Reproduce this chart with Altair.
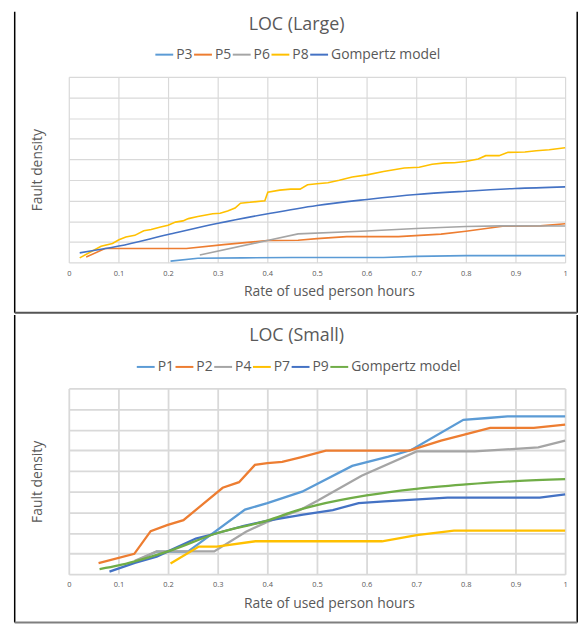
import altair as alt
import pandas as pd

# ---------------- shared ----------------
x_ticks = [0, 0.1, 0.2, 0.3, 0.4, 0.5, 0.6, 0.7, 0.8, 0.9, 1.0]
y_grid = [0, 1, 2, 3, 4, 5, 6, 7, 8, 9]
x_title = "Rate of used person hours"
y_title = "Fault density"

# ---------------- LOC (Large) ----------------
large_names = ["P3", "P5", "P6", "P8", "Gompertz model"]
large_colors = ["#5B9BD5", "#ED7D31", "#A5A5A5", "#FFC000", "#4472C4"]

p3_x = [0.205, 0.26, 0.35, 0.45, 0.55, 0.634, 0.7, 0.8, 0.9, 1.0]
p3_y = [0.07, 0.21, 0.23, 0.25, 0.25, 0.25, 0.3, 0.34, 0.34, 0.34]

p5_x = [0.035, 0.073, 0.237, 0.312, 0.4, 0.462, 0.5, 0.56, 0.664, 0.75, 0.8, 0.874, 0.95, 1.0]
p5_y = [0.27, 0.68, 0.68, 0.87, 1.07, 1.08, 1.16, 1.26, 1.26, 1.38, 1.52, 1.76, 1.78, 1.88]

p6_x = [0.264, 0.4, 0.462, 0.6, 0.7, 0.8, 0.87, 1.0]
p6_y = [0.37, 1.07, 1.39, 1.53, 1.65, 1.75, 1.78, 1.77]

p8_x = [0.022, 0.065, 0.088, 0.101, 0.115, 0.133, 0.151, 0.166, 0.185, 0.2, 0.215,
        0.23, 0.241, 0.26, 0.29, 0.305, 0.32, 0.335, 0.346, 0.365, 0.395, 0.401,
        0.425, 0.447, 0.466, 0.481, 0.5, 0.522, 0.545, 0.571, 0.601, 0.634, 0.676,
        0.706, 0.732, 0.758, 0.777, 0.799, 0.825, 0.84, 0.867, 0.885, 0.919, 0.942,
        0.968, 1.0]
p8_y = [0.23, 0.79, 0.93, 1.11, 1.24, 1.32, 1.54, 1.6, 1.72, 1.81, 1.96,
        2.02, 2.13, 2.23, 2.37, 2.39, 2.5, 2.64, 2.88, 2.92, 3.0, 3.41,
        3.51, 3.56, 3.56, 3.77, 3.82, 3.87, 3.99, 4.15, 4.25, 4.41, 4.58,
        4.62, 4.76, 4.83, 4.84, 4.9, 5.02, 5.18, 5.18, 5.34, 5.36, 5.42,
        5.47, 5.56]

gl_x = [0.022, 0.101, 0.2, 0.301, 0.401, 0.5, 0.601, 0.7, 0.8, 0.9, 1.0]
gl_y = [0.47, 0.8, 1.36, 1.91, 2.37, 2.77, 3.06, 3.3, 3.46, 3.59, 3.67]

# ---------------- LOC (Small) ----------------
small_names = ["P1", "P2", "P4", "P7", "P9", "Gompertz model"]
small_colors = ["#5B9BD5", "#ED7D31", "#A5A5A5", "#FFC000", "#4472C4", "#70AD47"]

p1_x = [0.133, 0.177, 0.24, 0.355, 0.4, 0.47, 0.571, 0.644, 0.69, 0.795, 0.844, 0.884, 1.0]
p1_y = [0.62, 1.1, 1.1, 3.13, 3.45, 4.0, 5.25, 5.7, 6.02, 7.48, 7.57, 7.65, 7.65]

p2_x = [0.06, 0.132, 0.165, 0.198, 0.231, 0.31, 0.343, 0.375, 0.4, 0.43, 0.467,
        0.518, 0.686, 0.75, 0.795, 0.849, 0.937, 1.0]
p2_y = [0.54, 0.99, 2.09, 2.38, 2.62, 4.19, 4.46, 5.3, 5.38, 5.44, 5.66,
        5.99, 5.99, 6.47, 6.75, 7.09, 7.09, 7.25]

p4_x = [0.133, 0.177, 0.293, 0.357, 0.4, 0.465, 0.5, 0.59, 0.701, 0.818, 0.946, 1.0]
p4_y = [0.65, 1.11, 1.11, 2.06, 2.54, 3.1, 3.55, 4.77, 5.95, 5.95, 6.15, 6.47]

p7_x = [0.205, 0.262, 0.298, 0.376, 0.631, 0.701, 0.776, 1.0]
p7_y = [0.52, 1.34, 1.34, 1.6, 1.6, 1.9, 2.11, 2.11]

p9_x = [0.082, 0.133, 0.177, 0.2, 0.256, 0.3, 0.353, 0.401, 0.472, 0.532, 0.584,
        0.636, 0.763, 0.949, 1.0]
p9_y = [0.13, 0.55, 0.85, 1.11, 1.73, 2.0, 2.35, 2.6, 2.89, 3.11, 3.45,
        3.53, 3.71, 3.71, 3.87]

gs_x = [0.062, 0.1, 0.133, 0.2, 0.3, 0.4, 0.465, 0.5, 0.6, 0.7, 0.8, 0.9, 1.0]
gs_y = [0.25, 0.43, 0.63, 1.11, 2.0, 2.6, 3.13, 3.35, 3.82, 4.14, 4.35, 4.51, 4.61]


def long_frame(names, xs, ys):
    rows = []
    for n, xv, yv in zip(names, xs, ys):
        for a, b in zip(xv, yv):
            rows.append({"series": n, "x": a, "y": b})
    return pd.DataFrame(rows)


large_df = long_frame(large_names, [p3_x, p5_x, p6_x, p8_x, gl_x],
                      [p3_y, p5_y, p6_y, p8_y, gl_y])
small_df = long_frame(small_names, [p1_x, p2_x, p4_x, p7_x, p9_x, gs_x],
                      [p1_y, p2_y, p4_y, p7_y, p9_y, gs_y])

TXT = "#595959"
FONT = "Open Sans"
W, H = 500, 187.2
aux = alt.Data(values=[{"k": 0}])


def panel(df, names, colors, title, line_w, grid_w, sym_size, col_pad, leg_x, leg_y,
          frame_top, frame_bottom, bottom_color):
    xenc = alt.X("x:Q", scale=alt.Scale(domain=[0, 1], nice=False),
                 axis=alt.Axis(values=x_ticks, format="~g", grid=True,
                               gridColor="#D9D9D9", gridWidth=grid_w,
                               domain=False, ticks=False, tickSize=0,
                               labelFont=FONT, labelFontSize=7.5, labelColor=TXT,
                               labelPadding=10.6, labelBaseline="middle",
                               labelFlush=False, labelOverlap=False,
                               title=x_title, titleFont=FONT, titleFontSize=14,
                               titleFontWeight="normal", titleColor=TXT,
                               titleX=262, titleY=33.5, titleAlign="center",
                               titleBaseline="alphabetic"))
    yenc = alt.Y("y:Q", scale=alt.Scale(domain=[0, 9], nice=False),
                 axis=alt.Axis(values=y_grid, grid=True, gridColor="#D9D9D9",
                               gridWidth=grid_w, domain=False, ticks=False,
                               labels=False, title=y_title, titleFont=FONT,
                               titleFontSize=14, titleFontWeight="normal",
                               titleColor=TXT, titleAngle=270, titleX=-31,
                               titleY=H / 2, titleAlign="center",
                               titleBaseline="middle"))
    color = alt.Color("series:N", scale=alt.Scale(domain=names, range=colors),
                      legend=alt.Legend(title=None, orient="none", legendX=leg_x,
                                        legendY=leg_y, direction="horizontal",
                                        symbolType="stroke", symbolSize=sym_size,
                                        symbolStrokeWidth=2, labelFont=FONT,
                                        labelFontSize=14, labelColor=TXT,
                                        labelOffset=2, columnPadding=col_pad,
                                        padding=0))
    obs = alt.Chart(df).transform_filter(
        alt.datum.series != "Gompertz model"
    ).mark_line(strokeWidth=line_w).encode(x=xenc, y=yenc, color=color)
    gomp = alt.Chart(df).transform_filter(
        alt.datum.series == "Gompertz model"
    ).mark_line(strokeWidth=line_w, interpolate="monotone").encode(
        x=xenc, y=yenc, color=color)

    left = alt.Chart(aux).mark_rule(color="#000000", strokeWidth=1.5).encode(
        x=alt.value(-54.5), y=alt.value(frame_top), y2=alt.value(frame_bottom))
    right = alt.Chart(aux).mark_rule(color="#000000", strokeWidth=1.5).encode(
        x=alt.value(512.2), y=alt.value(frame_top), y2=alt.value(frame_bottom))
    bottom = alt.Chart(aux).mark_rule(color=bottom_color, strokeWidth=2).encode(
        x=alt.value(-54.5), x2=alt.value(512.2), y=alt.value(frame_bottom))
    ttl = alt.Chart(aux).mark_text(text=title, font=FONT, fontSize=18, color=TXT,
                                   align="center", baseline="alphabetic").encode(
        x=alt.value(229.5), y=alt.value(-47.5))
    return alt.layer(obs, gomp, left, right, bottom, ttl).properties(width=W, height=H)


top = panel(large_df, large_names, large_colors, "LOC (Large)", 1.6, 1.2, 324, -5.1,
            86.2, -32.3, -65.55, 237.7, "#555555")
bot = panel(small_df, small_names, small_colors, "LOC (Small)", 2.3, 1.8, 324, -5.1,
            67.5, -31.7, -73.95, 235.8, "#7F7F7F")

chart = alt.vconcat(top, bot, spacing=0).resolve_scale(
    color="independent", x="independent", y="independent"
).resolve_legend(color="independent").properties(
    padding={"left": 5.25, "top": 0, "right": 0, "bottom": 0},
    background="white",
).configure(font=FONT).configure_view(strokeWidth=0)

chart.save("out.html", embed_options={"renderer": "svg", "actions": False})
